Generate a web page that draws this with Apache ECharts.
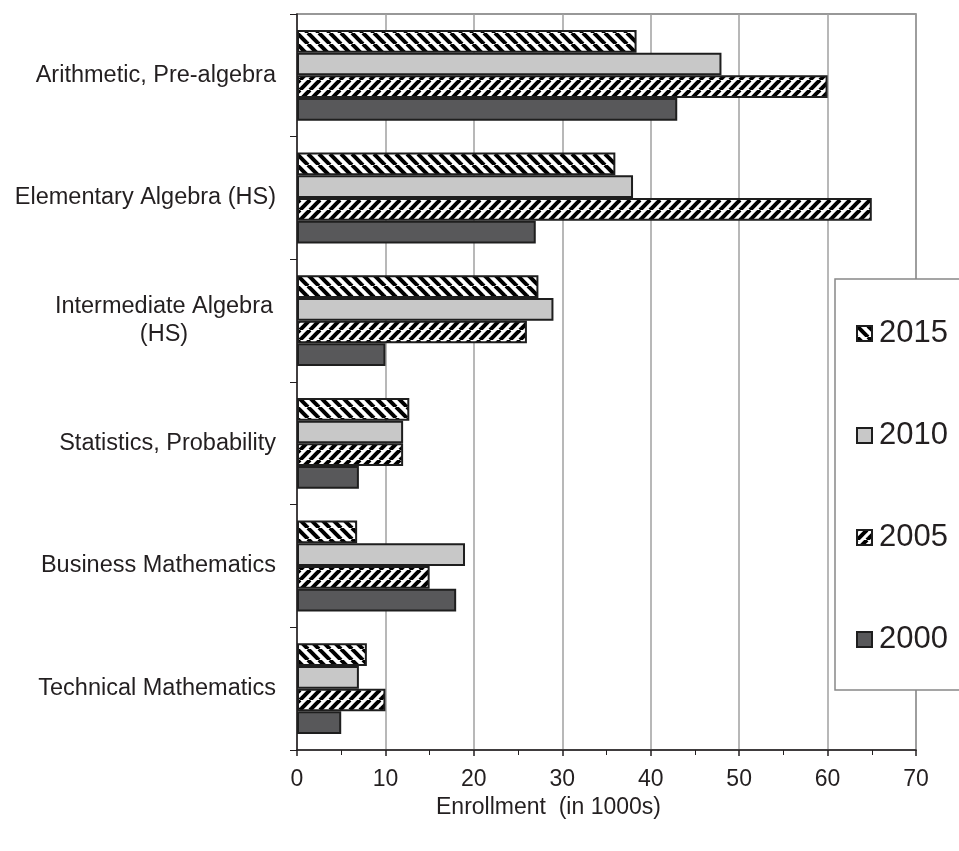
<!DOCTYPE html>
<html>
<head>
<meta charset="utf-8">
<script src="https://cdn.jsdelivr.net/npm/echarts@6/dist/echarts.min.js"></script>
<style>
  html, body { margin: 0; padding: 0; background: #fff; }
  #main { width: 959px; height: 851px; }
</style>
</head>
<body>
<div id="main"></div>
<script>
var categories = ['Arithmetic, Pre-algebra', 'Elementary Algebra (HS)', 'Intermediate Algebra (HS)',
  'Statistics, Probability', 'Business Mathematics', 'Technical Mathematics'];
var years = ['2015', '2010', '2005', '2000'];
var y2015 = [38.4, 36, 27.3, 12.7, 6.8, 7.9];
var y2010 = [48, 38, 29, 12, 19, 7];
var y2005 = [60, 65, 26, 12, 15, 10];
var y2000 = [43, 27, 10, 7, 18, 5];
var xTicks = [0, 10, 20, 30, 40, 50, 60, 70];

// diagonal hatch tiles
function hatch(size, back) {
  var c = document.createElement('canvas');
  c.width = size; c.height = size;
  var ctx = c.getContext('2d');
  ctx.fillStyle = '#fff';
  ctx.fillRect(0, 0, size, size);
  ctx.strokeStyle = '#000';
  ctx.lineWidth = 4;
  for (var k = -1; k <= 1; k++) {
    ctx.beginPath();
    if (back) {
      ctx.moveTo(k * size, 0); ctx.lineTo(k * size + size, size);
    } else {
      ctx.moveTo(k * size, size); ctx.lineTo(k * size + size, 0);
    }
    ctx.stroke();
  }
  return { image: c, repeat: 'repeat' };
}

var fills = {
  '2015': hatch(11, true),
  '2010': '#c8c8c8',
  '2005': hatch(10, false),
  '2000': '#58585a'
};
var values = { '2015': y2015, '2010': y2010, '2005': y2005, '2000': y2000 };

var myChart = echarts.init(document.getElementById('main'));

var series = years.map(function (y) {
  return {
    name: y,
    type: 'bar',
    data: values[y],
    barGap: 0,
    barCategoryGap: '26%',
    itemStyle: {
      color: fills[y],
      borderColor: '#1e1e1e',
      borderWidth: 2
    }
  };
});

var option = {
  backgroundColor: '#fff',
  animation: false,
  textStyle: { fontFamily: "'Liberation Sans', Arial, sans-serif" },
  title: {
    text: 'Enrollment  (in 1000s)',
    left: 431,
    top: 791,
    textStyle: { fontSize: 23, fontWeight: 'normal', color: '#231f20', fontFamily: "'Liberation Sans', Arial, sans-serif" }
  },
  legend: {
    data: years,
    orient: 'vertical',
    icon: 'rect',
    left: 835,
    top: 279,
    padding: [39, 40, 35, 21],
    itemGap: 71,
    itemWidth: 15,
    itemHeight: 15,
    backgroundColor: '#fff',
    borderColor: '#888',
    borderWidth: 1.5,
    borderRadius: 0,
    textStyle: { fontSize: 31, color: '#231f20', lineHeight: 30, padding: [0, 0, 0, 2] }
  },
  grid: {
    left: 297, right: 43, top: 14, bottom: 101,
    show: true, borderColor: '#777', borderWidth: 1.5,
    containLabel: false
  },
  xAxis: {
    type: 'value',
    min: 0, max: 70, interval: 10,
    axisLine: { show: true, lineStyle: { color: '#231f20', width: 1.5 } },
    axisTick: { show: true, length: 6, lineStyle: { color: '#231f20', width: 1.5 } },
    minorTick: { show: true, splitNumber: 2, length: 5, lineStyle: { color: '#231f20', width: 1 } },
    splitLine: { show: true, lineStyle: { color: '#a0a0a0', width: 1.5 } },
    axisLabel: {
      fontSize: 23, color: '#231f20', margin: 18,
      formatter: function (v) { return xTicks.indexOf(v) >= 0 ? String(v) : ''; }
    }
  },
  yAxis: {
    type: 'category',
    inverse: true,
    data: categories,
    axisLine: { show: true, lineStyle: { color: '#231f20', width: 1.5 } },
    axisTick: { show: true, length: 7, lineStyle: { color: '#231f20', width: 1 } },
    axisLabel: {
      fontSize: 23.5, color: '#231f20', margin: 21,
      formatter: function (v) {
        if (v === 'Intermediate Algebra (HS)') return '{c|Intermediate Algebra}\n{c|(HS)}';
        return v;
      },
      rich: { c: { width: 224, align: 'center', fontSize: 23.5, lineHeight: 28, color: '#231f20' } }
    }
  },
  series: series
};

myChart.setOption(option);
</script>
</body>
</html>
